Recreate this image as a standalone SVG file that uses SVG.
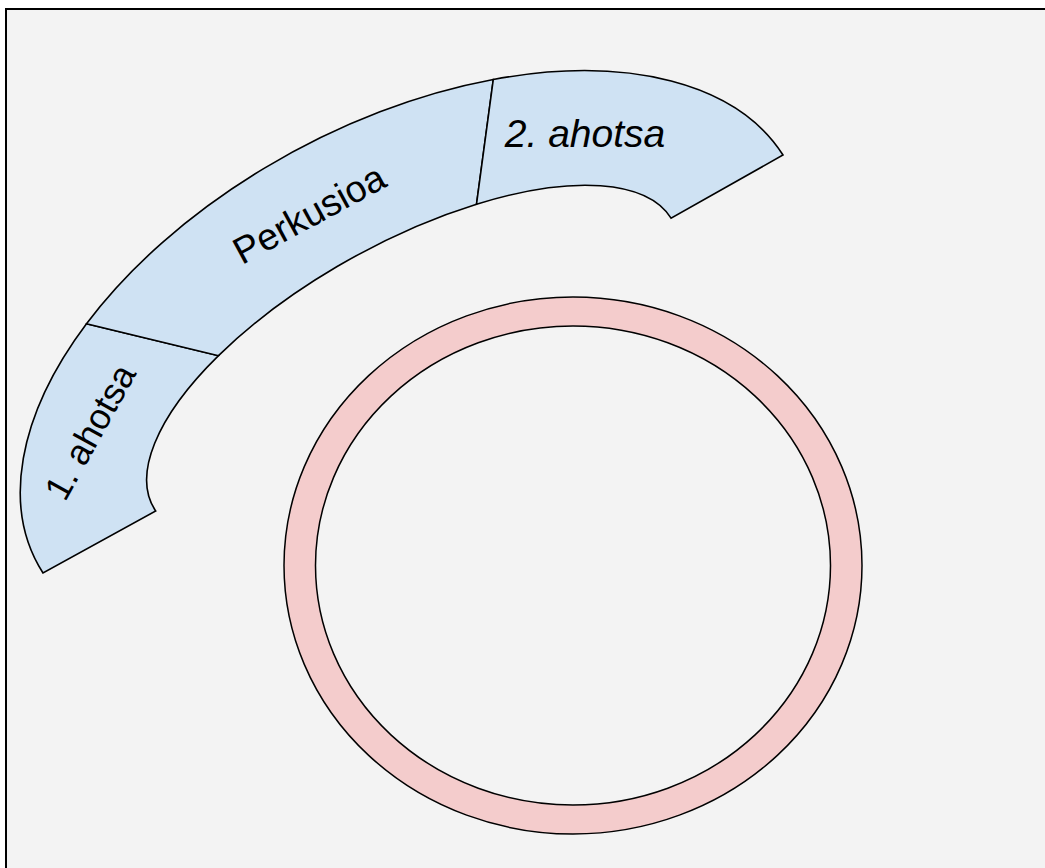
<svg xmlns="http://www.w3.org/2000/svg" width="1045" height="868" viewBox="0 0 1045 868">
<style>
.seg{fill:#cfe2f3;stroke:#000;stroke-width:1.6;stroke-linejoin:miter}
.lbl{font-family:"Liberation Sans",Arial,sans-serif;font-size:36px;fill:#000}
</style>
<rect width="1045" height="868" fill="#fff"/>
<rect x="6" y="9" width="1100" height="900" fill="#f3f3f3" stroke="#000" stroke-width="2"/>
<g id="ahotsa1">
<path class="seg" d="M43,573 A425.3,243.7 -27.92 0 1 86.49,323.78 L218.51,355.67 A296.5,122.2 -28.87 0 0 155.7,511.03 Z"/>
<text class="lbl" transform="translate(90,432) rotate(-61)" text-anchor="middle" dominant-baseline="central">1. ahotsa</text>
</g>
<g id="perkusioa">
<path class="seg" d="M86.49,323.78 A425.3,243.7 -27.92 0 1 493.3,79.5 L476.53,204.18 A296.5,122.2 -28.87 0 0 218.51,355.67 Z"/>
<text class="lbl" style="font-size:37.5px" transform="translate(309,214) rotate(-28.5)" text-anchor="middle" dominant-baseline="central">Perkusioa</text>
</g>
<g id="ahotsa2">
<path class="seg" d="M493.3,79.5 A425.3,243.7 -27.92 0 1 783,155 L671.04,218.11 A296.5,122.2 -28.87 0 0 476.53,204.18 Z"/>
<text class="lbl" style="font-size:39px" x="585" y="147" text-anchor="middle" font-style="italic">2. ahotsa</text>
</g>
<g id="ring">
<path d="M284,565.5 a289,268.5 0 1,0 578,0 a289,268.5 0 1,0 -578,0 Z M315.5,565.5 a257.5,239.5 0 1,0 515,0 a257.5,239.5 0 1,0 -515,0 Z" fill="#f4cccc" stroke="#000" stroke-width="1.5" fill-rule="evenodd"/>
</g>
</svg>
